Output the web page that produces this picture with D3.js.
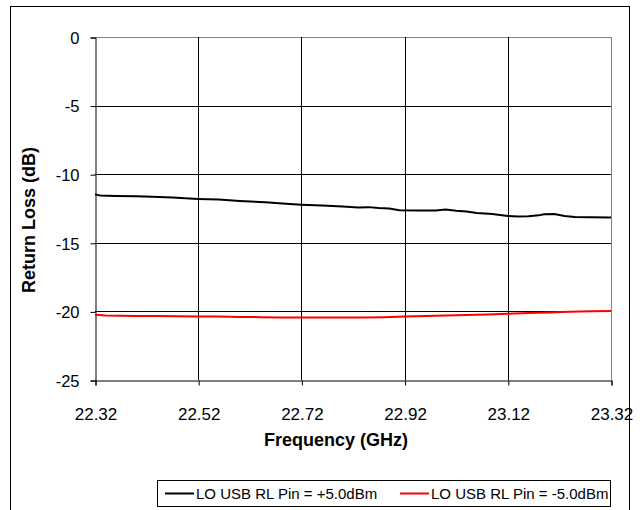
<!DOCTYPE html>
<html><head><meta charset="utf-8">
<script src="https://cdn.jsdelivr.net/npm/d3@7"></script>
<style>body{margin:0;background:#fff}svg{display:block;font-family:"Liberation Sans",Arial,sans-serif}</style>
</head><body>
<script>
const xTicks = [22.32, 22.52, 22.72, 22.92, 23.12, 23.32];
const yTicks = [0, -5, -10, -15, -20, -25];
const seriesNames = ["LO USB RL Pin = +5.0dBm", "LO USB RL Pin = -5.0dBm"];
const seriesColors = ["#000000", "#ff0000"];
const freqPlus5 = [22.32,22.33,22.36,22.40,22.43,22.47,22.52,22.56,22.60,22.65,22.69,22.72,22.76,22.80,22.83,22.85,22.87,22.89,22.91,22.95,22.98,23.00,23.02,23.04,23.06,23.09,23.12,23.14,23.16,23.18,23.19,23.21,23.23,23.25,23.28,23.32];
const rlPlus5   = [-11.47,-11.55,-11.58,-11.6,-11.65,-11.7,-11.8,-11.85,-11.95,-12.05,-12.15,-12.22,-12.28,-12.35,-12.42,-12.40,-12.46,-12.5,-12.62,-12.64,-12.65,-12.58,-12.66,-12.72,-12.82,-12.9,-13.05,-13.08,-13.06,-13.0,-12.92,-12.9,-13.05,-13.12,-13.14,-13.15];
const freqMinus5 = [22.32,22.34,22.37,22.40,22.44,22.48,22.52,22.56,22.60,22.64,22.68,22.72,22.76,22.80,22.84,22.88,22.92,22.96,23.00,23.04,23.08,23.12,23.16,23.20,23.24,23.28,23.32];
const rlMinus5   = [-20.25,-20.3,-20.32,-20.33,-20.34,-20.35,-20.37,-20.38,-20.4,-20.42,-20.45,-20.45,-20.44,-20.45,-20.45,-20.42,-20.38,-20.34,-20.3,-20.26,-20.22,-20.18,-20.12,-20.08,-20.02,-19.98,-19.97];

const W = 640, H = 510;
const svg = d3.select("body").append("svg").attr("width", W).attr("height", H);
const m = {l: 95, r: 611, t: 37, b: 380};
const x = d3.scaleLinear().domain([22.32, 23.32]).range([m.l, m.r]);
const y = d3.scaleLinear().domain([-25, 0]).range([m.b, m.t]);
const FF = "'Liberation Sans',Arial,sans-serif";

// outer border
svg.append("rect").attr("x", 10.5).attr("y", 6.5).attr("width", 619).attr("height", 510).attr("fill", "none").attr("stroke", "#000").attr("stroke-width", 1);

// gridlines
const g = svg.append("g");
g.selectAll(".hg").data(yTicks.filter(d => d !== -25)).enter().append("line")
  .attr("x1", m.l).attr("x2", m.r).attr("y1", d => Math.round(y(d)) + 0.5).attr("y2", d => Math.round(y(d)) + 0.5)
  .attr("stroke", d => d === 0 ? "#808080" : "#000").attr("stroke-width", 1);
g.selectAll(".vg").data(xTicks.slice(1)).enter().append("line")
  .attr("y1", m.t).attr("y2", m.b).attr("x1", d => Math.round(x(d)) + 0.5).attr("x2", d => Math.round(x(d)) + 0.5)
  .attr("stroke", (d, i) => i === xTicks.length - 2 ? "#808080" : "#000").attr("stroke-width", 1);

// axes
const yAxis = d3.axisLeft(y).tickValues(yTicks).tickSize(5).tickFormat(d => String(d));
const ya = svg.append("g").attr("transform", `translate(${m.l + 0.5},0.5)`).call(yAxis);
ya.select(".domain").attr("stroke", "#000");
ya.selectAll("text").attr("font-size", 16.5).attr("x", -16).attr("dy", "0.35em").attr("fill", "#000").style("font-family", FF);
const xAxis = d3.axisBottom(x).tickValues(xTicks).tickSize(5).tickFormat(d3.format(".2f"));
const xa = svg.append("g").attr("transform", `translate(0.5,${m.b + 0.5})`).call(xAxis);
xa.select(".domain").attr("stroke", "#000");
xa.selectAll("text").attr("font-size", 17).attr("y", 39).attr("dy", 0).attr("fill", "#000").style("font-family", FF);

// series
const line = d3.line().x(d => x(d[0])).y(d => y(d[1]));
const data = [d3.zip(freqPlus5, rlPlus5), d3.zip(freqMinus5, rlMinus5)];
svg.selectAll(".s").data(data).enter().append("path")
  .attr("d", line).attr("fill", "none").attr("stroke", (d, i) => seriesColors[i]).attr("stroke-width", 2);

// titles
svg.append("text").attr("x", 336).attr("y", 446).attr("text-anchor", "middle")
  .attr("font-size", 18).attr("font-weight", "bold").text("Frequency (GHz)");
svg.append("text").attr("transform", `translate(35,220) rotate(-90)`).attr("text-anchor", "middle")
  .attr("font-size", 18).attr("font-weight", "bold").text("Return Loss (dB)");

// legend
svg.append("rect").attr("x", 157.5).attr("y", 480.5).attr("width", 453).attr("height", 26).attr("fill", "#fff").attr("stroke", "#000");
const lx = [165, 400];
seriesNames.forEach((n, i) => {
  svg.append("line").attr("x1", lx[i]).attr("x2", lx[i] + 29).attr("y1", 493.5).attr("y2", 493.5).attr("stroke", seriesColors[i]).attr("stroke-width", 2);
  svg.append("text").attr("x", lx[i] + 31).attr("y", 499).attr("font-size", 15).text(n);
});
</script>
</body></html>
